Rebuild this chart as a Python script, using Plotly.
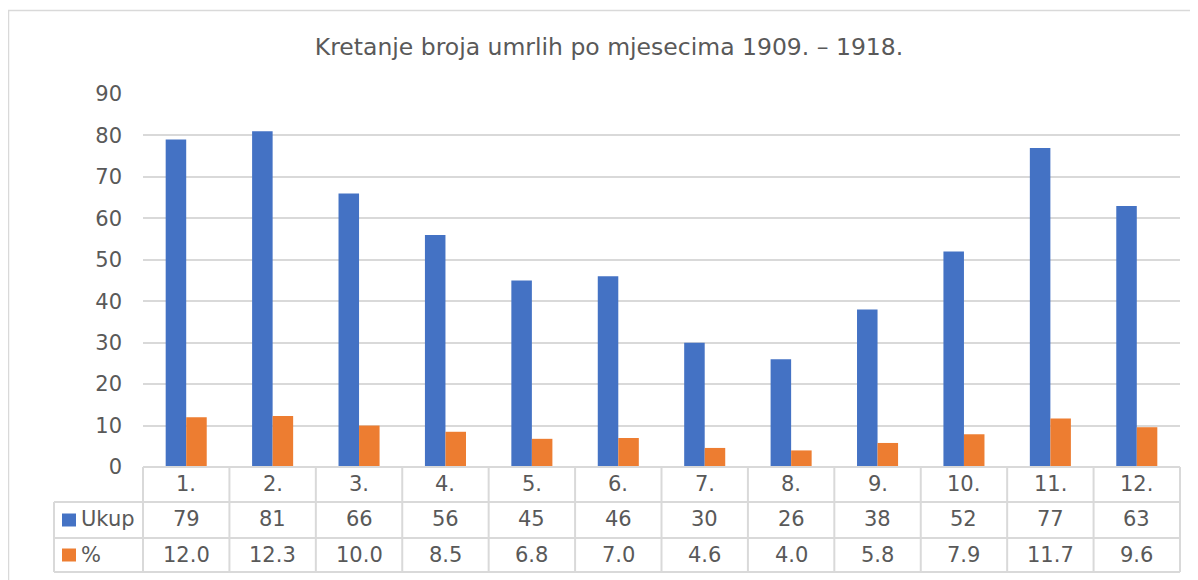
import plotly.graph_objects as go

# ---- data ----
categories = ["1.", "2.", "3.", "4.", "5.", "6.", "7.", "8.", "9.", "10.", "11.", "12."]
ukup = [79, 81, 66, 56, 45, 46, 30, 26, 38, 52, 77, 63]
pct = [12.0, 12.3, 10.0, 8.5, 6.8, 7.0, 4.6, 4.0, 5.8, 7.9, 11.7, 9.6]
series_names = ["Ukup", "%"]
y_ticks = [0, 10, 20, 30, 40, 50, 60, 70, 80, 90]
title_text = "Kretanje broja umrlih po mjesecima 1909. – 1918."

# ---- style ----
W, H = 1198, 580
OFF = 8  # page body margin offset
L, T = 143 - OFF, 94 - OFF
R = W - (1180 - OFF)
B = H - (467 - OFF)
PW, PH = W - L - R, H - T - B
BLUE, ORANGE = "#4472C4", "#ED7D31"
TXT = "#595959"
GRID = "#d9d9d9"
FONT = "DejaVu Sans"


def px(x):
    """target screen x -> paper x"""
    return (x - OFF - L) / PW


def py(y):
    """target screen y -> paper y"""
    return (H - B - (y - OFF)) / PH


fig = go.Figure()
fig.add_trace(go.Bar(x=categories, y=ukup, name=series_names[0], marker_color=BLUE,
                     marker_line_width=0, hoverinfo="x+y"))
fig.add_trace(go.Bar(x=categories, y=pct, name=series_names[1], marker_color=ORANGE,
                     marker_line_width=0, hoverinfo="x+y"))

shapes = []
# outer chart border
shapes.append(dict(type="rect", xref="paper", yref="paper", x0=px(8.5), y0=py(10.5),
                   x1=px(1230), y1=py(620), line=dict(color=GRID, width=1.5)))
# table lines
row_cat_top, row_u_top, row_p_top, row_bottom = 467, 502, 538, 572
legend_left = 54
n = len(categories)
for i in range(n + 1):
    xx = i / n
    shapes.append(dict(type="line", xref="paper", yref="paper", x0=xx, x1=xx,
                       y0=py(row_cat_top), y1=py(row_bottom), line=dict(color=GRID, width=2)))
shapes.append(dict(type="line", xref="paper", yref="paper", x0=px(legend_left), x1=px(legend_left),
                   y0=py(row_u_top), y1=py(row_bottom), line=dict(color=GRID, width=2)))
for yy in (row_u_top, row_p_top, row_bottom):
    shapes.append(dict(type="line", xref="paper", yref="paper", x0=px(legend_left), x1=1,
                       y0=py(yy), y1=py(yy), line=dict(color=GRID, width=2)))
shapes.append(dict(type="line", xref="paper", yref="paper", x0=0, x1=1,
                   y0=py(row_cat_top), y1=py(row_cat_top), line=dict(color=GRID, width=2)))
# legend keys
for color, yc in ((BLUE, 520), (ORANGE, 555)):
    shapes.append(dict(type="rect", xref="paper", yref="paper", x0=px(62), x1=px(76),
                       y0=py(yc - 6.5), y1=py(yc + 6.5), fillcolor=color, line=dict(width=0)))

annotations = []
tfont = dict(family=FONT, size=21, color=TXT)
for i, c in enumerate(categories):
    annotations.append(dict(xref="x", yref="paper", x=i, y=py(484), text=c, showarrow=False,
                            font=tfont, xanchor="center", yanchor="middle"))
    annotations.append(dict(xref="x", yref="paper", x=i, y=py(519), text=str(ukup[i]),
                            showarrow=False, font=tfont, xanchor="center", yanchor="middle"))
    annotations.append(dict(xref="x", yref="paper", x=i, y=py(555), text=f"{pct[i]:.1f}",
                            showarrow=False, font=tfont, xanchor="center", yanchor="middle"))
for name, yc in zip(series_names, (519, 555)):
    annotations.append(dict(xref="paper", yref="paper", x=px(79), y=py(yc), text=name,
                            showarrow=False, font=tfont, xanchor="left", yanchor="middle"))

fig.update_layout(
    width=W, height=H,
    margin=dict(l=L, r=R, t=T, b=B, pad=0),
    paper_bgcolor="white", plot_bgcolor="white",
    barmode="group", bargap=0.525, bargroupgap=0,
    showlegend=False,
    title=dict(text=title_text, x=(609 - OFF) / W, y=1 - (47 - OFF) / H,
               xanchor="center", yanchor="middle",
               xref="container", yref="container",
               font=dict(family=FONT, size=23.5, color=TXT)),
    shapes=shapes,
    annotations=annotations,
    font=dict(family=FONT, color=TXT),
)
fig.update_xaxes(type="category", categoryorder="array", categoryarray=categories,
                 range=[-0.5, n - 0.5], autorange=False,
                 showticklabels=False, showgrid=False, zeroline=False, showline=False, ticks="")
fig.update_yaxes(range=[0, 90], tickvals=y_ticks, showgrid=True, gridcolor=GRID, gridwidth=1.5,
                 zeroline=False, showline=False, ticks="", ticklabelstandoff=20,
                 tickfont=dict(family=FONT, size=21, color=TXT))

fig.write_html("out.html")
